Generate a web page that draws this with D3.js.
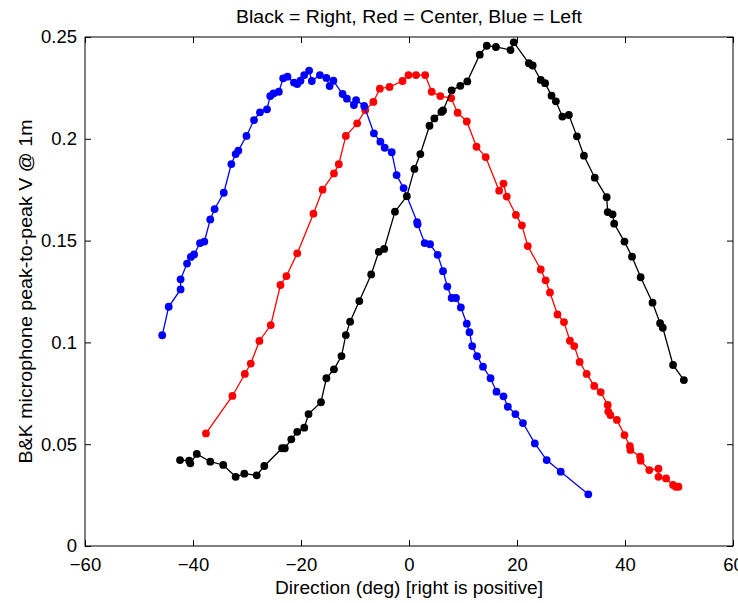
<!DOCTYPE html>
<html>
<head>
<meta charset="utf-8">
<script src="https://cdn.jsdelivr.net/npm/d3@7"></script>
<style>
  body { margin: 0; background: #fff; }
  svg { display: block; }
</style>
</head>
<body>
<div id="chart"></div>
<script>
// [direction deg, peak-to-peak V]
const leftSeries = [
  [-45.7,0.1035],[-44.5,0.1175],[-42.3,0.126],[-42.3,0.131],[-41.1,0.1387],[-40.4,0.142],[-39.8,0.1432],
  [-38.7,0.1488],[-37.9,0.1495],[-36.8,0.1604],[-36.0,0.1655],[-34.3,0.1735],[-32.9,0.1876],[-32.1,0.1925],
  [-31.6,0.1942],[-30.1,0.2014],[-28.7,0.2092],[-27.6,0.213],[-26.3,0.2145],[-25.7,0.221],[-25.1,0.2223],
  [-24.1,0.2231],[-23.3,0.2297],[-22.5,0.2305],[-21.3,0.2276],[-20.7,0.2269],[-20.1,0.2285],[-19.4,0.2313],
  [-18.5,0.2335],[-18.0,0.2284],[-16.5,0.2313],[-15.3,0.2299],[-14.7,0.2259],[-14.0,0.2285],[-12.3,0.222],
  [-11.5,0.2197],[-10.2,0.2166],[-9.8,0.219],[-8.3,0.2161],[-6.5,0.2027],[-5.3,0.1986],[-4.5,0.1956],
  [-3.2,0.1934],[-2.3,0.1822],[-1.0,0.1758],[1.5,0.1591],[1.6,0.158],[2.9,0.1488],[3.9,0.1482],[5.3,0.143],
  [6.3,0.135],[7.1,0.1274],[7.9,0.1218],[8.7,0.1218],[9.6,0.1172],[10.7,0.1092],[11.2,0.105],[11.7,0.0982],
  [12.6,0.0932],[13.7,0.0881],[15.1,0.0824],[16.2,0.0758],[17.5,0.0735],[18.3,0.0684],[19.7,0.0648],
  [21.1,0.0604],[23.3,0.0504],[25.5,0.0422],[28.1,0.0365],[33.2,0.0254]
];
const centerSeries = [
  [-37.6,0.0553],[-32.7,0.0737],[-30.4,0.0845],[-29.3,0.0896],[-27.7,0.1007],[-25.6,0.1085],[-23.8,0.1282],
  [-22.7,0.1326],[-20.7,0.1437],[-17.7,0.1632],[-16.0,0.175],[-13.9,0.183],[-13.0,0.1875],[-11.7,0.2014],
  [-9.6,0.2076],[-8.1,0.2141],[-6.6,0.2181],[-5.4,0.2246],[-3.6,0.2255],[-1.2,0.2284],[-0.1,0.2313],
  [1.3,0.2313],[3.0,0.2313],[4.2,0.2231],[5.8,0.221],[7.8,0.22],[9.0,0.2128],[10.7,0.2085],[12.5,0.1961],
  [14.2,0.191],[16.7,0.1745],[17.5,0.178],[18.1,0.1716],[19.8,0.1626],[20.9,0.1575],[22.0,0.1473],
  [24.4,0.1358],[25.3,0.1305],[26.1,0.1245],[27.5,0.1137],[28.7,0.11],[29.8,0.1008],[30.6,0.0982],
  [31.6,0.0904],[32.9,0.0845],[34.3,0.0786],[35.5,0.0756],[36.8,0.0693],[36.9,0.066],[37.3,0.0643],
  [38.5,0.0619],[39.9,0.0545],[40.9,0.0491],[41.0,0.0472],[42.8,0.0439],[42.9,0.0419],[44.5,0.0373],
  [46.2,0.038],[46.2,0.034],[47.6,0.0332],[48.9,0.03],[49.4,0.0291],[49.9,0.0291]
];
const rightSeries = [
  [-42.4,0.0422],[-40.7,0.0419],[-40.5,0.0406],[-39.3,0.0452],[-36.8,0.0414],[-34.4,0.0398],[-32.1,0.034],
  [-30.5,0.0355],[-28.2,0.0347],[-26.8,0.0393],[-23.5,0.048],[-23.0,0.048],[-21.8,0.0524],[-20.7,0.0561],
  [-19.4,0.0581],[-18.6,0.0648],[-16.3,0.0706],[-15.3,0.0824],[-13.9,0.0868],[-12.5,0.0933],[-11.7,0.1036],
  [-10.9,0.1102],[-9.2,0.1203],[-7.0,0.1334],[-5.6,0.1445],[-4.6,0.1459],[-2.6,0.1642],[-0.4,0.1718],
  [1.0,0.1852],[2.1,0.1925],[3.8,0.2064],[4.7,0.21],[6.0,0.2132],[6.3,0.2139],[7.9,0.2238],[9.5,0.226],
  [10.8,0.2282],[13.1,0.2413],[14.4,0.2457],[16.1,0.2451],[18.8,0.2436],[19.4,0.2474],[22.2,0.2371],
  [22.9,0.236],[24.4,0.2289],[25.2,0.2273],[26.4,0.2212],[27.2,0.2184],[28.4,0.2109],[29.6,0.2117],
  [31.1,0.2012],[32.4,0.1917],[34.4,0.1809],[36.6,0.1713],[36.8,0.164],[37.7,0.1629],[38.0,0.1583],
  [39.9,0.1495],[41.3,0.1421],[42.9,0.132],[45.1,0.1195],[46.5,0.1094],[47.0,0.1072],[48.9,0.0889],
  [50.9,0.0815]
];

const xTicks = [-60, -40, -20, 0, 20, 40, 60];
const yTicks = [0, 0.05, 0.1, 0.15, 0.2, 0.25];

const series = [
  { name: "Center", color: "#ff0000", data: centerSeries },
  { name: "Left", color: "#0000ff", data: leftSeries },
  { name: "Right", color: "#000000", data: rightSeries }
];

const W = 738, H = 603;
const margin = { top: 37, right: 5, bottom: 57, left: 85 };
const width = W - margin.left - margin.right,
      height = H - margin.top - margin.bottom;

const svg = d3.select("#chart")
  .append("svg")
  .attr("width", W)
  .attr("height", H)
  .style("font-family", "'Liberation Sans', Arial, sans-serif");

const g = svg.append("g")
  .attr("transform", `translate(${margin.left},${margin.top})`);

const x = d3.scaleLinear().domain([-60, 60]).range([0, width]);
const y = d3.scaleLinear().domain([0, 0.25]).range([height, 0]);

// axes, ticks pointing inward like matlab
const tick = 6;
g.append("g")
  .attr("transform", `translate(0,${height})`)
  .call(d3.axisBottom(x).tickValues(xTicks).tickSizeInner(-tick).tickSizeOuter(0).tickPadding(12))
  .call(a => a.selectAll("text").style("font-size", "18.5px").attr("fill", "#000"));
g.append("g")
  .call(d3.axisTop(x).tickValues(xTicks).tickSizeInner(-tick).tickSizeOuter(0).tickFormat(""));
g.append("g")
  .call(d3.axisLeft(y).tickValues(yTicks).tickSizeInner(-tick).tickSizeOuter(0).tickPadding(8).tickFormat(d => String(d)))
  .call(a => a.selectAll("text").style("font-size", "18.5px").attr("fill", "#000"));
g.append("g")
  .attr("transform", `translate(${width},0)`)
  .call(d3.axisRight(y).tickValues(yTicks).tickSizeInner(-tick).tickSizeOuter(0).tickFormat(""));
g.selectAll(".domain").remove();
g.selectAll(".tick line").attr("stroke", "#000");

g.append("rect")
  .attr("width", width)
  .attr("height", height)
  .attr("fill", "none")
  .attr("stroke", "#000")
  .attr("stroke-width", 1);

const line = d3.line().x(d => x(d[0])).y(d => y(d[1]));

series.forEach(s => {
  g.append("path")
    .datum(s.data)
    .attr("d", line)
    .attr("fill", "none")
    .attr("stroke", s.color)
    .attr("stroke-width", 1.3);
  g.append("g").selectAll("circle")
    .data(s.data)
    .enter()
    .append("circle")
    .attr("cx", d => x(d[0]))
    .attr("cy", d => y(d[1]))
    .attr("r", 3.9)
    .attr("fill", s.color);
});

svg.append("text")
  .attr("x", margin.left + width / 2)
  .attr("y", 22.5)
  .attr("text-anchor", "middle")
  .attr("textLength", 346)
  .attr("lengthAdjust", "spacingAndGlyphs")
  .style("font-size", "17.5px")
  .text("Black = Right, Red = Center, Blue = Left");

svg.append("text")
  .attr("x", margin.left + width / 2)
  .attr("y", 594)
  .attr("text-anchor", "middle")
  .attr("textLength", 268)
  .attr("lengthAdjust", "spacingAndGlyphs")
  .style("font-size", "17.5px")
  .text("Direction (deg) [right is positive]");

svg.append("text")
  .attr("transform", "rotate(-90)")
  .attr("x", -(margin.top + height / 2))
  .attr("y", 32)
  .attr("text-anchor", "middle")
  .attr("textLength", 344)
  .attr("lengthAdjust", "spacingAndGlyphs")
  .style("font-size", "17.5px")
  .text("B&K microphone peak-to-peak V @ 1m");
</script>
</body>
</html>
